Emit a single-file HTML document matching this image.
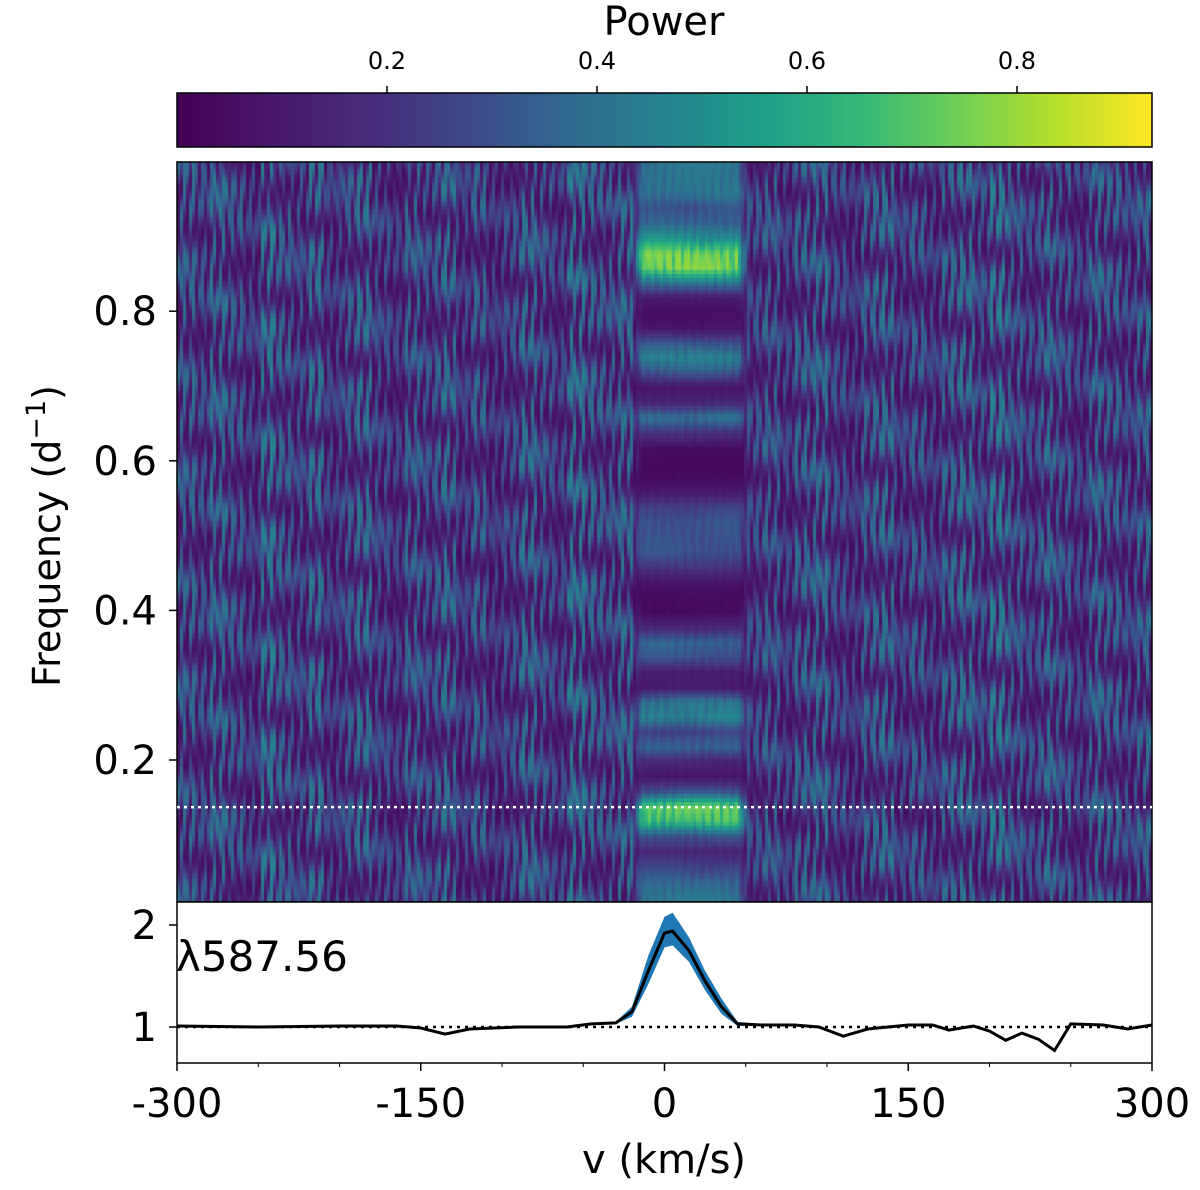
<!DOCTYPE html>
<html><head><meta charset="utf-8"><style>
html,body{margin:0;padding:0;background:#fff;}
body{width:1200px;height:1190px;position:relative;overflow:hidden;font-family:"DejaVu Sans","Liberation Sans",sans-serif;}
text{font-family:"DejaVu Sans","Liberation Sans",sans-serif;}
</style></head><body>
<svg id="fig" width="1200" height="1190" xmlns="http://www.w3.org/2000/svg" style="position:absolute;left:0;top:0">
<defs>
<linearGradient id="vir" x1="0" x2="1" y1="0" y2="0">
<stop offset="0" stop-color="#440154"/><stop offset="0.1" stop-color="#48186a"/><stop offset="0.2" stop-color="#472d7b"/><stop offset="0.3" stop-color="#3e4989"/><stop offset="0.4" stop-color="#31688e"/><stop offset="0.5" stop-color="#26828e"/><stop offset="0.6" stop-color="#1f9e89"/><stop offset="0.7" stop-color="#35b779"/><stop offset="0.8" stop-color="#6ece58"/><stop offset="0.9" stop-color="#b5de2b"/><stop offset="1" stop-color="#fde725"/>
</linearGradient>
</defs>
<text x="664" y="35" font-size="40" text-anchor="middle">Power</text>
<rect x="177" y="93" width="975" height="54" fill="url(#vir)" stroke="#000" stroke-width="1.5"/>
<g id="cbticks"></g>
<foreignObject x="177" y="162" width="975" height="740"><canvas xmlns="http://www.w3.org/1999/xhtml" id="hm" width="975" height="740" style="display:block"></canvas></foreignObject>
<rect x="177" y="162" width="975" height="740" fill="none" stroke="#000" stroke-width="1.5"/>
<line id="freqline" stroke="#fff" stroke-width="2.5" stroke-dasharray="3,4"/>
<g id="yticks"></g>
<text transform="translate(60,536) rotate(-90)" font-size="38" text-anchor="middle">Frequency (d<tspan dy="-15" font-size="27">−1</tspan><tspan dy="15">)</tspan></text>
<rect x="177" y="902" width="975" height="161" fill="#fff" stroke="#000" stroke-width="1.5"/>
<path id="band" fill="#1f77b4"/>
<line id="unity" stroke="#000" stroke-width="2.5" stroke-dasharray="3,5"/>
<path id="prof" fill="none" stroke="#000" stroke-width="3"/>
<text x="176" y="971" font-size="42">λ587.56</text>
<g id="pticks"></g>
<g id="xticks"></g>
<text x="664" y="1173" font-size="40" text-anchor="middle">v (km/s)</text>
</svg>
<script>
const cbTicks=[0.2,0.4,0.6,0.8];
const freqTicks=[0.2,0.4,0.6,0.8];
const velTicks=[-300,-150,0,150,300];
const profTicks=[1,2];
const highlightFreq=0.137;
// background column power, 60 bins of 10 km/s from -300
const colPower=[0.26,0.22,0.28,0.24,0.2,0.3,0.25,0.22,0.28,0.2,0.24,0.28,0.22,0.19,0.26,0.23,0.28,0.2,0.25,0.19,0.22,0.28,0.24,0.2,0.3,0.26,0.24,0.28,0.14,0.08,0.25,0.25,0.25,0.25,0.12,0.22,0.25,0.2,0.26,0.28,0.22,0.19,0.25,0.28,0.21,0.24,0.2,0.26,0.28,0.23,0.3,0.25,0.22,0.28,0.24,0.2,0.28,0.25,0.22,0.26];
// central band power rows, freq 0.00..0.98 step 0.02
const bandPower=[0.4,0.4,0.35,0.25,0.15,0.3,0.65,0.7,0.3,0.08,0.15,0.35,0.25,0.45,0.4,0.1,0.12,0.3,0.35,0.15,0.04,0.04,0.08,0.2,0.3,0.3,0.3,0.25,0.1,0.04,0.03,0.05,0.2,0.4,0.15,0.08,0.3,0.45,0.3,0.08,0.05,0.1,0.4,0.72,0.72,0.5,0.35,0.3,0.4,0.4];
const profV=[-300,-250,-200,-165,-150,-135,-120,-90,-60,-45,-30,-20,-10,0,5,15,25,35,45,60,80,95,110,125,150,165,175,190,200,210,220,230,240,250,270,285,300];
const profF=[1.01,1.0,1.01,1.01,0.99,0.93,0.98,1.0,1.0,1.03,1.04,1.15,1.55,1.92,1.94,1.75,1.45,1.2,1.03,1.02,1.02,1.0,0.91,0.98,1.02,1.02,0.97,1.01,0.96,0.87,0.94,0.88,0.77,1.03,1.02,0.98,1.02];
const bandUp=[1.02,1.01,1.02,1.02,1.0,0.94,0.99,1.01,1.01,1.04,1.05,1.2,1.7,2.08,2.12,1.88,1.55,1.28,1.05,1.03,1.03,1.01,0.92,0.99,1.03,1.03,0.98,1.02,0.97,0.88,0.95,0.89,0.78,1.04,1.03,0.99,1.03];
const bandLo=[1.0,0.99,1.0,1.0,0.98,0.92,0.97,0.99,0.99,1.02,1.03,1.1,1.42,1.78,1.8,1.64,1.36,1.13,1.01,1.01,1.01,0.99,0.9,0.97,1.01,1.01,0.96,1.0,0.95,0.86,0.93,0.87,0.76,1.02,1.01,0.97,1.01];

const NS='http://www.w3.org/2000/svg';
const xV=v=>177+(v+300)/600*975;
const yF=f=>909.6-f*748;
const yP=p=>1027-(p-1)*102;
const xC=p=>177+p*1050;
function mk(tag,attrs,parent,txt){const e=document.createElementNS(NS,tag);for(const k in attrs)e.setAttribute(k,attrs[k]);if(txt!==undefined)e.textContent=txt;parent.appendChild(e);return e;}
const stops=[[0,[68,1,84]],[0.1,[72,24,106]],[0.2,[71,45,123]],[0.3,[62,73,137]],[0.4,[49,104,142]],[0.5,[38,130,142]],[0.6,[31,158,137]],[0.7,[53,183,121]],[0.8,[110,206,88]],[0.9,[181,222,43]],[1,[253,231,37]]];
function vir(t){t=Math.max(0,Math.min(1,t));for(let i=1;i<stops.length;i++){if(t<=stops[i][0]){const a=stops[i-1],b=stops[i],u=(t-a[0])/(b[0]-a[0]);return 'rgb('+a[1].map((c,j)=>Math.round(c+(b[1][j]-c)*u)).join(',')+')';}}return 'rgb(253,231,37)';}

const cv=document.getElementById('hm');const ctx=cv.getContext('2d');
for(let px=0;px<975;px+=3){
 const v=-300+px/975*600;
 const ci=Math.min(59,Math.floor((v+300)/10));
 for(let py=0;py<740;py+=4){
  const f=(909.6-(162+py))/748;
  const m=Math.abs(Math.cos(px*1.37+Math.sin(py*0.03+px*0.7)*1.8));
  let bg=colPower[ci]*(0.25+1.3*m*m);
  let val=bg;
  if(v>-22&&v<52){
   const fi=Math.max(0,Math.min(48.999,f/0.02));const i0=Math.floor(fi),u=fi-i0;
   const bp=bandPower[i0]*(1-u)+bandPower[Math.min(49,i0+1)]*u;
   const edge=Math.min(1,Math.min(v+22,52-v)/8);
   val=bp*(0.9+0.2*m)*edge+bg*(1-edge);
  }
  ctx.fillStyle=vir(val/0.929);
  ctx.fillRect(px,py,3,4);
 }
}
const fl=document.getElementById('freqline');
fl.setAttribute('x1',177);fl.setAttribute('x2',1152);fl.setAttribute('y1',yF(highlightFreq));fl.setAttribute('y2',yF(highlightFreq));

const cbg=document.getElementById('cbticks');
cbTicks.forEach(t=>{mk('line',{x1:xC(t),x2:xC(t),y1:93,y2:86,stroke:'#000','stroke-width':1.5},cbg);mk('text',{x:xC(t),y:69,'font-size':24,'text-anchor':'middle'},cbg,t.toFixed(1));});
const yg=document.getElementById('yticks');
freqTicks.forEach(t=>{mk('line',{x1:169,x2:177,y1:yF(t),y2:yF(t),stroke:'#000','stroke-width':1.5},yg);mk('text',{x:157,y:yF(t)+14,'font-size':40,'text-anchor':'end'},yg,t.toFixed(1));});
const pg=document.getElementById('pticks');
profTicks.forEach(t=>{mk('line',{x1:169,x2:177,y1:yP(t),y2:yP(t),stroke:'#000','stroke-width':1.5},pg);mk('text',{x:157,y:yP(t)+14,'font-size':40,'text-anchor':'end'},pg,String(t));});
const xg=document.getElementById('xticks');
velTicks.forEach(t=>{mk('line',{x1:xV(t),x2:xV(t),y1:1063,y2:1071,stroke:'#000','stroke-width':1.5},xg);mk('text',{x:xV(t),y:1117,'font-size':40,'text-anchor':'middle'},xg,String(t));});
for(let v=-250;v<300;v+=50){if(v%150!==0)mk('line',{x1:xV(v),x2:xV(v),y1:1063,y2:1067,stroke:'#000','stroke-width':1},xg);}

const u=document.getElementById('unity');
u.setAttribute('x1',177);u.setAttribute('x2',1152);u.setAttribute('y1',yP(1));u.setAttribute('y2',yP(1));
let d='';profV.forEach((v,i)=>{d+=(i?'L':'M')+xV(v).toFixed(1)+','+yP(profF[i]).toFixed(1);});
document.getElementById('prof').setAttribute('d',d);
let b='';profV.forEach((v,i)=>{b+=(i?'L':'M')+xV(v).toFixed(1)+','+yP(bandUp[i]).toFixed(1);});
for(let i=profV.length-1;i>=0;i--)b+='L'+xV(profV[i]).toFixed(1)+','+yP(bandLo[i]).toFixed(1);
document.getElementById('band').setAttribute('d',b+'Z');
</script>
</body></html>
